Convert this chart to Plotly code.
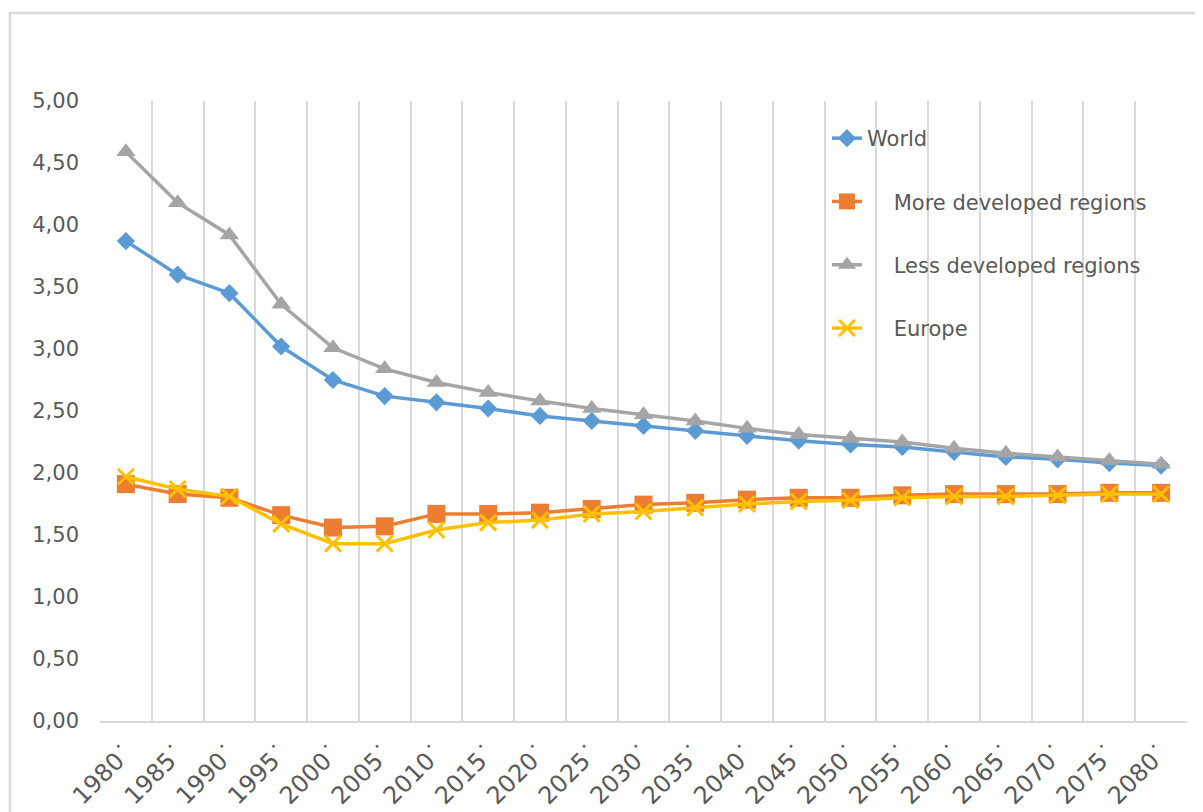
import plotly.graph_objects as go

# categories (5-year steps) and series
years = ["1980", "1985", "1990", "1995", "2000", "2005", "2010", "2015", "2020", "2025", "2030",
         "2035", "2040", "2045", "2050", "2055", "2060", "2065", "2070", "2075", "2080"]
tick_labels = [y + "\u02d9" for y in years]

world = [3.87, 3.60, 3.45, 3.02, 2.75, 2.62, 2.57, 2.52, 2.46, 2.42, 2.38,
         2.34, 2.30, 2.26, 2.23, 2.21, 2.17, 2.13, 2.11, 2.08, 2.06]
more_developed = [1.91, 1.83, 1.80, 1.66, 1.56, 1.57, 1.67, 1.67, 1.68, 1.71, 1.745,
                  1.76, 1.785, 1.80, 1.80, 1.82, 1.83, 1.83, 1.83, 1.84, 1.84]
less_developed = [4.59, 4.18, 3.92, 3.36, 3.01, 2.84, 2.73, 2.65, 2.58, 2.52, 2.47,
                  2.42, 2.36, 2.31, 2.28, 2.25, 2.20, 2.16, 2.13, 2.10, 2.07]
europe = [1.97, 1.87, 1.81, 1.59, 1.43, 1.43, 1.54, 1.60, 1.62, 1.67, 1.69,
          1.72, 1.75, 1.77, 1.78, 1.80, 1.81, 1.81, 1.82, 1.83, 1.83]

pad = "\u00a0" * 4
series = [
    ("World", world, "#5B9BD5", dict(symbol="diamond", size=14)),
    (pad + "More developed regions", more_developed, "#ED7D31", dict(symbol="square", size=18)),
    (pad + "Less developed regions", less_developed, "#A5A5A5", dict(symbol="triangle-up", size=17)),
    (pad + "Europe", europe, "#FFC000", dict(symbol="x-thin", size=16, line=dict(width=3, color="#FFC000"))),
]

fig = go.Figure()
for i, (name, vals, color, mk) in enumerate(series):
    fig.add_trace(go.Scatter(
        x=tick_labels, y=vals, name=name, mode="lines+markers",
        line=dict(color=color, width=3.5),
        marker=dict(color=color, **mk),
        legendgroup=str(i),
    ))

# page body has an 8px margin, so the figure is sized to end at the window edge
W, H = 1195, 804
L, R, T, B = 92, 16, 93, 91
pw, ph = W - L - R, H - T - B

fig.update_layout(
    width=W, height=H,
    margin=dict(l=L, r=R, t=T, b=B),
    plot_bgcolor="white", paper_bgcolor="white",
    font=dict(family="DejaVu Sans, sans-serif", size=21, color="#595959"),
    separators=", ",
    showlegend=True,
    legend=dict(
        x=(819 - L) / pw, y=1 - (110 - T) / ph, xanchor="left", yanchor="top",
        traceorder="grouped", tracegroupgap=33,
        bgcolor="rgba(0,0,0,0)", font=dict(size=21, color="#595959"),
    ),
    xaxis=dict(
        type="category", tickson="boundaries", tickangle=-45,
        showgrid=True, gridcolor="#D9D9D9", gridwidth=1.5,
        showline=True, linecolor="#D9D9D9", linewidth=1.5,
        ticks="", tickfont=dict(size=24, color="#595959"),
        ticklabelstandoff=6, automargin=False,
        range=[-0.5, 20.5], fixedrange=True,
    ),
    yaxis=dict(
        range=[0, 5], dtick=0.5, tickformat=".2f",
        showgrid=False, zeroline=False, showline=False,
        ticks="", tickfont=dict(size=21, color="#595959"),
        ticklabelstandoff=20, automargin=False,
        fixedrange=True,
    ),
)

# outer chart frame (light grey border)
fig.add_shape(type="rect", xref="paper", yref="paper",
              x0=(2 - L) / pw, x1=(1210 - L) / pw,
              y0=(T + ph - 820) / ph, y1=(T + ph - 5) / ph,
              line=dict(color="#D9D9D9", width=2.5), layer="below")

fig.write_html("out.html")
